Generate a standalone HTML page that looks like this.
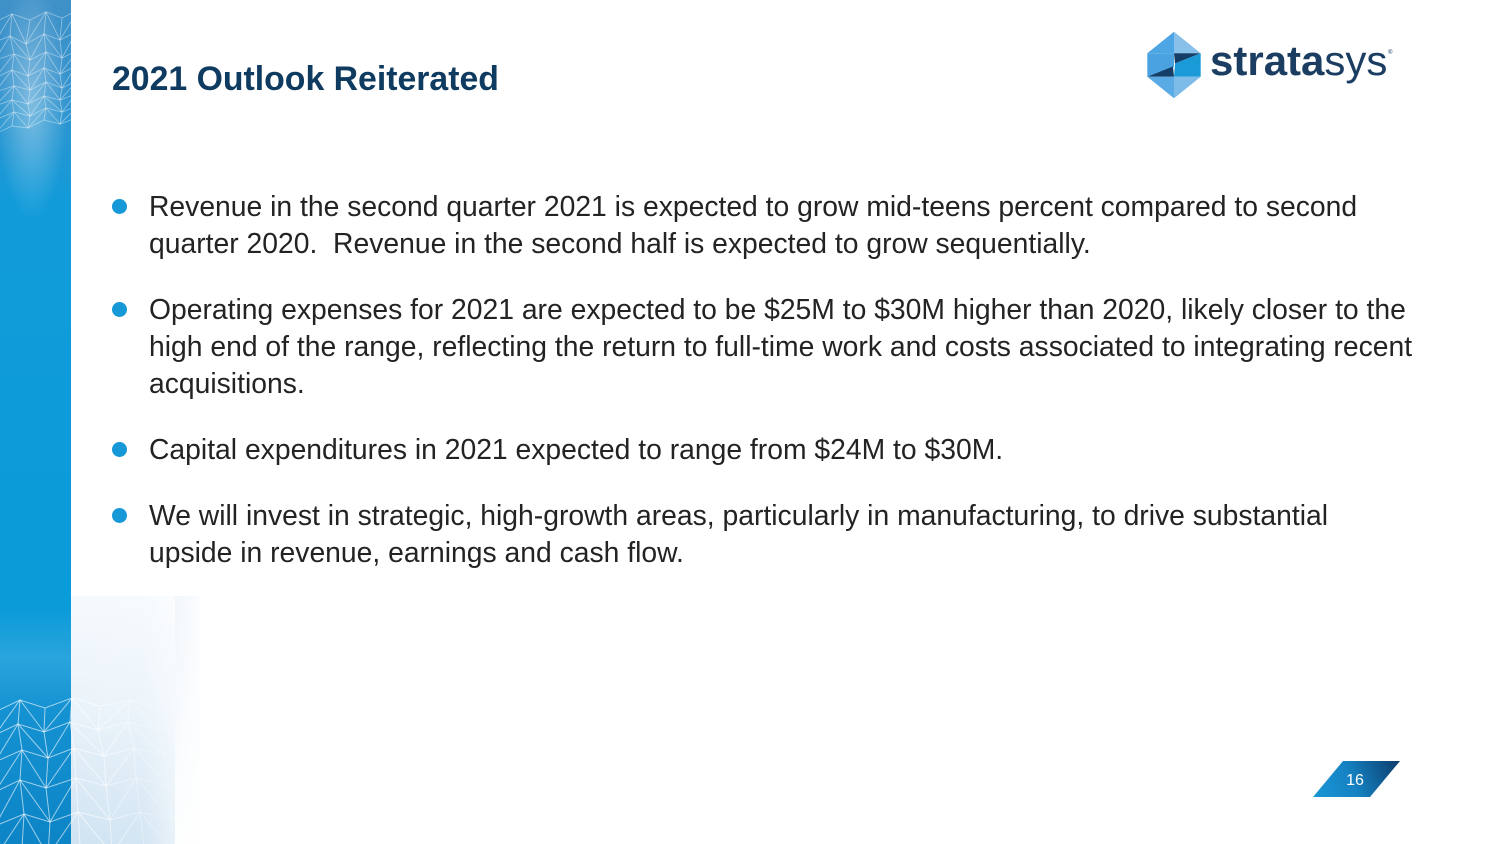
<!DOCTYPE html>
<html>
<head>
<meta charset="utf-8">
<style>
  html, body { margin:0; padding:0; }
  body { width:1500px; height:844px; overflow:hidden; background:#ffffff; position:relative;
         font-family:"Liberation Sans", Arial, sans-serif; }
  .title { position:absolute; left:112px; top:59px; font-size:33.8px; line-height:40px; font-weight:bold;
           color:#0f3b60; white-space:nowrap; }
  .p { position:absolute; left:149px; font-size:28.3px; line-height:37.3px; color:#232323; white-space:pre; }
  .dot { position:absolute; left:112px; width:15px; height:15px; border-radius:50%; background:#1798d7; }
</style>
</head>
<body>

<svg width="200" height="844" style="position:absolute;left:0;top:0" xmlns="http://www.w3.org/2000/svg">
  <defs>
    <linearGradient id="barG" x1="0" y1="0" x2="0" y2="1">
      <stop offset="0" stop-color="#3f91c8"/>
      <stop offset="0.10" stop-color="#3693cd"/>
      <stop offset="0.24" stop-color="#129bd9"/>
      <stop offset="0.72" stop-color="#0a9bd9"/>
      <stop offset="0.78" stop-color="#2aa4dc"/>
      <stop offset="0.84" stop-color="#1592d2"/>
      <stop offset="1" stop-color="#0c84c6"/>
    </linearGradient>
    <radialGradient id="hazeTop" cx="0.45" cy="0.42" r="0.5">
      <stop offset="0" stop-color="#ffffff" stop-opacity="0.38"/>
      <stop offset="1" stop-color="#ffffff" stop-opacity="0"/>
    </radialGradient>
    <linearGradient id="panelV" x1="0" y1="0" x2="0" y2="1">
      <stop offset="0" stop-color="#f6fafd"/>
      <stop offset="0.45" stop-color="#eaf3fa"/>
      <stop offset="1" stop-color="#cfe3f2"/>
    </linearGradient>
    <linearGradient id="panelFade" x1="0" y1="0" x2="1" y2="0">
      <stop offset="0" stop-color="#ffffff" stop-opacity="0"/>
      <stop offset="0.55" stop-color="#ffffff" stop-opacity="0.1"/>
      <stop offset="1" stop-color="#ffffff" stop-opacity="0.85"/>
    </linearGradient>
    <linearGradient id="stripG" x1="0" y1="0" x2="0" y2="1">
      <stop offset="0" stop-color="#e3eef8"/>
      <stop offset="0.5" stop-color="#eef5fb"/>
      <stop offset="1" stop-color="#fbfdfe"/>
    </linearGradient>
    <linearGradient id="mFadeH" x1="0" y1="0" x2="1" y2="0">
      <stop offset="0" stop-color="#fff"/>
      <stop offset="0.5" stop-color="#fff"/>
      <stop offset="1" stop-color="#000"/>
    </linearGradient>
    <linearGradient id="mFadeTop" x1="0" y1="0" x2="0" y2="1">
      <stop offset="0" stop-color="#fff"/>
      <stop offset="0.7" stop-color="#fff"/>
      <stop offset="1" stop-color="#000"/>
    </linearGradient>
    <mask id="mBottom" maskUnits="userSpaceOnUse" x="0" y="680" width="200" height="164">
      <rect x="0" y="680" width="200" height="164" fill="url(#mFadeH)"/>
    </mask>
    <mask id="mTop" maskUnits="userSpaceOnUse" x="0" y="0" width="71" height="180">
      <rect x="0" y="0" width="71" height="180" fill="url(#mFadeTop)"/>
    </mask>
  </defs>

  <rect x="0" y="0" width="71" height="844" fill="url(#barG)"/>
  <rect x="0" y="0" width="71" height="240" fill="url(#hazeTop)"/>

  <rect x="71" y="596" width="129" height="248" fill="url(#panelV)"/>
  <rect x="175" y="596" width="25" height="248" fill="url(#stripG)"/>
  <rect x="71" y="596" width="129" height="248" fill="url(#panelFade)"/>

  <g mask="url(#mTop)">
  <g fill="none" stroke="#ffffff" stroke-opacity="0.4" stroke-width="0.9">
    <path d="M-5,22 12,14 30,20 46,12 62,18 78,10"/>
    <path d="M-5,42 10,36 26,44 44,34 60,40 76,32"/>
    <path d="M-5,60 14,54 30,60 46,52 62,58 78,50"/>
    <path d="M-5,78 12,70 28,76 44,68 60,74 76,66"/>
    <path d="M-5,92 14,86 30,90 46,82 62,88 78,80"/>
    <path d="M-5,106 12,100 28,104 44,96 60,100 76,94"/>
    <path d="M-5,120 14,112 30,116 46,108 62,112 78,106"/>
    <path d="M-5,134 12,126 28,128 44,120 60,124 76,118"/>
    <path d="M12,14 10,36 14,54 12,70 14,86 12,100 14,112 12,126"/>
    <path d="M30,20 26,44 30,60 28,76 30,90 28,104 30,116 28,128"/>
    <path d="M46,12 44,34 46,52 44,68 46,82 44,96 46,108 44,120"/>
    <path d="M62,18 60,40 62,58 60,74 62,88 60,100 62,112 60,124"/>
    <path d="M78,10 76,32 78,50 76,66 78,80 76,94 78,106 76,118"/>
    <path d="M-5,42 12,14 26,44 46,12 60,40 78,10"/>
    <path d="M-5,60 10,36 30,60 44,34 62,58 76,32"/>
    <path d="M-5,78 14,54 28,76 46,52 60,74 78,50"/>
    <path d="M-5,92 12,70 30,90 44,68 62,88 76,66"/>
    <path d="M-5,106 14,86 28,104 46,82 60,100 78,80"/>
    <path d="M-5,120 12,100 30,116 44,96 62,112 76,94"/>
    <path d="M-5,134 14,112 28,128 46,108 60,124 78,106"/>
  </g>
  </g>

  <g mask="url(#mBottom)">
  <g fill="none" stroke="#ffffff" stroke-opacity="0.6" stroke-width="1">
    <path d="M-5,712 20,700 45,708 72,698 100,706 130,700 160,708 200,700"/>
    <path d="M-5,735 18,724 44,732 70,722 98,730 128,722 158,730 200,724"/>
    <path d="M-5,762 22,750 48,758 74,748 104,756 134,748 164,756 200,750"/>
    <path d="M-5,792 20,780 46,788 76,778 106,786 136,778 168,786 200,780"/>
    <path d="M-5,826 24,814 50,822 78,812 110,820 140,812 172,820 200,814"/>
    <path d="M-5,858 22,848 48,856 80,846 112,854 144,846 176,854 200,848"/>
    <path d="M20,700 18,724 22,750 20,780 24,814 22,848"/>
    <path d="M45,708 44,732 48,758 46,788 50,822 48,856"/>
    <path d="M72,698 70,722 74,748 76,778 78,812 80,846"/>
    <path d="M100,706 98,730 104,756 106,786 110,820 112,854"/>
    <path d="M130,700 128,722 134,748 136,778 140,812 144,846"/>
    <path d="M160,708 158,730 164,756 168,786 172,820 176,854"/>
    <path d="M-5,735 20,700 44,732 72,698 98,730 130,700 158,730 200,700"/>
    <path d="M-5,762 18,724 48,758 70,722 104,756 128,722 164,756 200,724"/>
    <path d="M-5,792 22,750 46,788 74,748 106,786 134,748 168,786 200,750"/>
    <path d="M-5,826 20,780 50,822 76,778 110,820 136,778 172,820 200,780"/>
    <path d="M-5,858 24,814 48,856 78,812 112,854 140,812 176,854 200,814"/>
  </g>
  </g>
</svg>

<div class="title">2021 Outlook Reiterated</div>

<svg width="260" height="80" style="position:absolute;left:1140px;top:26px" viewBox="1140 26 260 80" xmlns="http://www.w3.org/2000/svg">
  <g transform="translate(1144,30)">
    <polygon points="30,1.7 3.3,23.3 30,23.3" fill="#4ea5e3"/>
    <polygon points="30,1.7 56.7,23.3 30,23.3" fill="#88c0ea"/>
    <polygon points="3.3,23.3 30,23.3 30,36.7 3.3,46.7" fill="#4aa2e1"/>
    <polygon points="30,23.3 56.7,23.3 31,33.5" fill="#143e66"/>
    <polygon points="31,33.5 56.7,23.3 56.7,46.7 30,46.7" fill="#1a9bd8"/>
    <polygon points="3.3,46.7 29,36.5 30,46.7" fill="#143e66"/>
    <polygon points="3.3,46.7 30,46.7 30,68.3" fill="#5aaae6"/>
    <polygon points="30,46.7 56.7,46.7 30,68.3" fill="#7dbbe8"/>
  </g>
  <text x="1210" y="75" font-family="Liberation Sans, Arial, sans-serif" font-size="42" fill="#1c3d62"><tspan font-weight="bold">strata</tspan><tspan>sys</tspan></text>
  <text x="1388" y="54" font-family="Liberation Sans, Arial, sans-serif" font-size="6" fill="#1c3d62">®</text>
</svg>

<div class="dot" style="top:198.5px"></div>
<div class="p" style="top:187.5px">Revenue in the second quarter 2021 is expected to grow mid-teens percent compared to second
quarter 2020.  Revenue in the second half is expected to grow sequentially.</div>

<div class="dot" style="top:301.8px"></div>
<div class="p" style="top:290.8px">Operating expenses for 2021 are expected to be $25M to $30M higher than 2020, likely closer to the
high end of the range, reflecting the return to full-time work and costs associated to integrating recent
acquisitions.</div>

<div class="dot" style="top:441.8px"></div>
<div class="p" style="top:430.8px">Capital expenditures in 2021 expected to range from $24M to $30M.</div>

<div class="dot" style="top:507.5px"></div>
<div class="p" style="top:496.5px">We will invest in strategic, high-growth areas, particularly in manufacturing, to drive substantial
upside in revenue, earnings and cash flow.</div>

<svg width="100" height="50" style="position:absolute;left:1305px;top:755px" viewBox="1305 755 100 50" xmlns="http://www.w3.org/2000/svg">
  <defs>
    <linearGradient id="pgG" x1="1313" y1="797" x2="1400" y2="761" gradientUnits="userSpaceOnUse">
      <stop offset="0" stop-color="#1a97d6"/>
      <stop offset="0.45" stop-color="#1582c3"/>
      <stop offset="1" stop-color="#0c3c6a"/>
    </linearGradient>
  </defs>
  <polygon points="1343,761 1400,761 1370,797 1313,797" fill="url(#pgG)"/>
  <text x="1355" y="785" text-anchor="middle" font-family="Liberation Sans, Arial, sans-serif" font-size="16" fill="#ffffff">16</text>
</svg>

</body>
</html>
